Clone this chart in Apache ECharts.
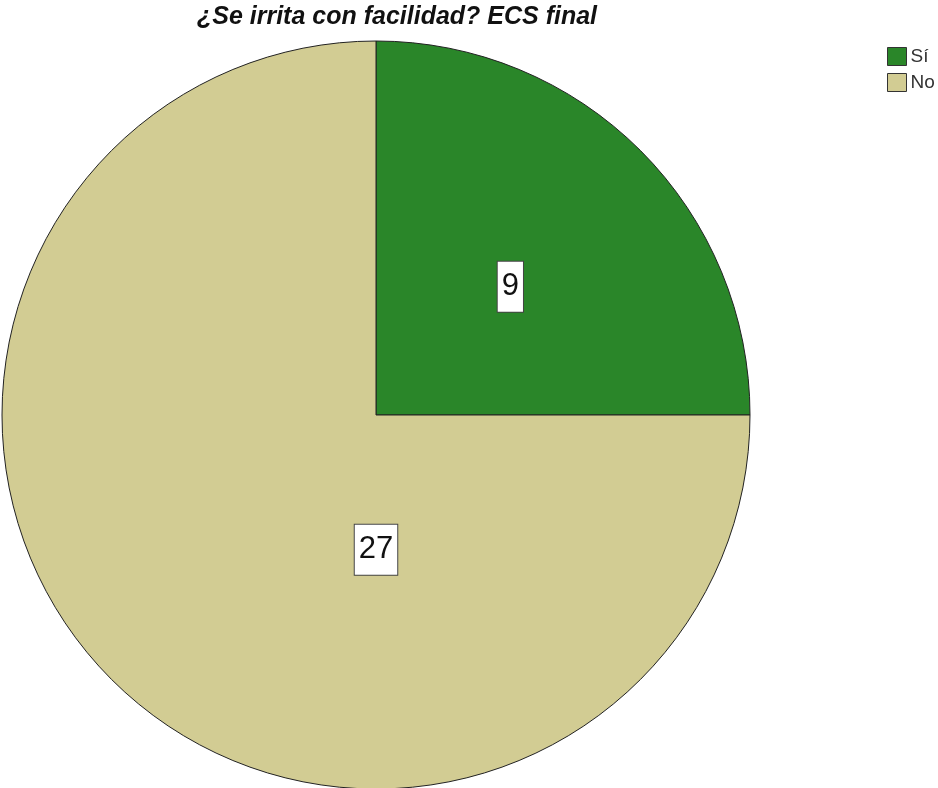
<!DOCTYPE html>
<html>
<head>
<meta charset="utf-8">
<script src="https://cdn.jsdelivr.net/npm/echarts@6/dist/echarts.min.js"></script>
<style>
  html, body { margin: 0; padding: 0; background: #fff; }
  #chart { width: 938px; height: 788px; }
</style>
</head>
<body>
<div id="chart"></div>
<script>
// Response categories and counts
const categories = ['Sí', 'No'];
const counts = [9, 27];
const colors = ['#2a8629', '#d2cc93'];

const chartTitle = '¿Se irrita con facilidad? ECS final';

// Pie geometry
const pieCenter = [376, 415];
const pieRadius = 374;

const chart = echarts.init(document.getElementById('chart'), null, { renderer: 'canvas' });

const data = categories.map((name, i) => ({
  name: name,
  value: counts[i],
  itemStyle: { color: colors[i] }
}));

chart.setOption({
  animation: false,
  backgroundColor: '#ffffff',
  title: {
    text: chartTitle,
    left: 397,
    top: 1,
    padding: 0,
    textAlign: 'center',
    textStyle: {
      fontFamily: 'Liberation Sans, Arial, sans-serif',
      fontSize: 25,
      lineHeight: 32,
      fontStyle: 'italic',
      fontWeight: 'bold',
      color: '#111'
    }
  },
  legend: {
    orient: 'vertical',
    left: 887,
    top: 47,
    padding: 0,
    itemWidth: 19,
    itemHeight: 18,
    itemGap: 7,
    icon: 'rect',
    data: categories,
    itemStyle: { borderColor: '#333', borderWidth: 1 },
    textStyle: {
      fontFamily: 'Liberation Sans, Arial, sans-serif',
      fontSize: 19,
      color: '#333',
      padding: [0, 0, 0, -1]
    }
  },
  series: [{
    type: 'pie',
    center: pieCenter,
    radius: pieRadius,
    startAngle: 90,
    clockwise: true,
    silent: true,
    data: data,
    itemStyle: { borderColor: '#222', borderWidth: 1 },
    label: {
      show: true,
      position: 'inside',
      formatter: '{c}',
      fontFamily: 'Liberation Sans, Arial, sans-serif',
      fontSize: 31,
      lineHeight: 36,
      color: '#111',
      backgroundColor: '#fff',
      borderColor: '#444',
      borderWidth: 1,
      padding: [7, 4, 7, 4]
    },
    labelLine: { show: false },
    // the larger slice carries its count label just below the centre
    labelLayout: function (params) {
      if (params.dataIndex === 1) {
        return { x: pieCenter[0], y: pieCenter[1] + pieRadius * 0.36, align: 'center', verticalAlign: 'middle' };
      }
      return { dy: 6 };
    }
  }]
});
</script>
</body>
</html>
